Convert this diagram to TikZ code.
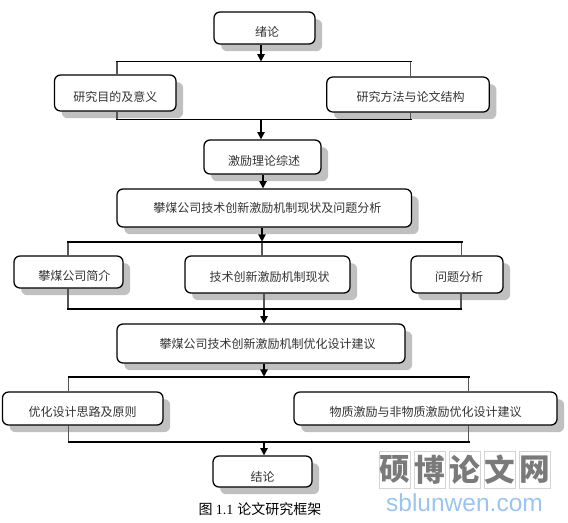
\documentclass[tikz,border=0pt]{standalone}
\usepackage{fontspec}
\usetikzlibrary{shadows,arrows.meta}
\setmainfont{Liberation Serif}
\newfontfamily\cjkf{Noto Sans CJK SC}
\newfontfamily\wmlatin{Liberation Sans}
\definecolor{shadowc}{HTML}{C0C0C0}
\definecolor{labelc}{HTML}{333333}
\definecolor{dropc}{HTML}{555555}
\definecolor{wmgrid}{HTML}{D4D4D4}
\definecolor{wmink}{HTML}{7A7A7A}
\definecolor{wmblue}{HTML}{9CC4EE}
\newlength{\nudgeunit}\setlength{\nudgeunit}{1.5pt}
\newcommand{\nudge}[1]{\hspace*{#1\nudgeunit}}
\tikzset{
  wh/.style 2 args={minimum width=#1*0.75pt,minimum height=#2*0.75pt},
  dn/.style={text height=#1,text depth=1pt},
  bx/.style={draw=black,line width=0.95pt,fill=white,rounded corners=4.5pt,inner sep=0pt,
    text=labelc,font=\cjkf\fontsize{9}{11}\selectfont,
    general shadow={fill=shadowc,draw=none,shadow xshift=5.4pt,shadow yshift=-5.4pt}},
  bus/.style={draw=black,line width=1.25pt,line cap=rect},
  drop/.style={draw=dropc,line width=1pt},
  arr/.style={draw=black,line width=1.1pt,-{Triangle[length=5.5pt,width=5.5pt]}},
  wmcell/.style={draw=wmgrid,line width=0.5pt,fill=white,minimum width=23.6pt,minimum height=28pt,inner sep=0pt,
    text=wmink,font=\cjkf\bfseries\fontsize{23}{26}\selectfont},
  wmurl/.style={text=wmblue,inner sep=0pt,font=\wmlatin\fontsize{18.4}{22}\selectfont},
  capt/.style={inner sep=0pt,text=black,font=\cjkf\fontsize{10.5}{12}\selectfont}
}
\begin{document}
\begin{tikzpicture}[x=0.75pt,y=-0.75pt]
\useasboundingbox (0,0) rectangle (568,522);
% boxes
\node[bx,wh={101}{32},dn=13.9pt]    (n1)  at (264.5,28)   {\nudge{2.5}绪论};
\node[bx,wh={121.5}{36},dn=13.9pt]  (n2)  at (115.25,93)  {研究目的及意义};
\node[bx,wh={162.5}{35},dn=10.9pt]  (n3)  at (408,94.5)   {\nudge{2.5}研究方法与论文结构};
\node[bx,wh={117}{34},dn=13.15pt]   (n4)  at (262.5,157)  {\nudge{1.5}激励理论综述};
\node[bx,wh={294.5}{38},dn=7.9pt]   (n5)  at (264.25,208) {\nudge{3}攀煤公司技术创新激励机制现状及问题分析};
\node[bx,wh={109}{32},dn=13.9pt]    (n6)  at (68.5,272)   {\nudge{6}攀煤公司简介};
\node[bx,wh={165}{37},dn=10.9pt]    (n7)  at (267.5,274.5){\nudge{2}技术创新激励机制现状};
\node[bx,wh={92}{37},dn=10.9pt]     (n8)  at (457,274.5)  {\nudge{2}问题分析};
\node[bx,wh={288}{39},dn=7.9pt]     (n9)  at (261,343.5)  {\nudge{6.5}攀煤公司技术创新激励机制优化设计建议};
\node[bx,wh={160.5}{33},dn=12.4pt]  (n10) at (82.75,408.5){优化设计思路及原则};
\node[bx,wh={263}{33},dn=12.4pt]    (n11) at (425.5,408.5){物质激励与非物质激励优化设计建议};
\node[bx,wh={99}{31},dn=15.4pt]     (n12) at (262.5,471.5){结论};
% bus coordinates
\coordinate (b1l) at (117,61.5);  \coordinate (b1m) at (261,61.5);  \coordinate (b1r) at (410.7,61.5);
\coordinate (b2l) at (117,119.5); \coordinate (b2m) at (261,119.5); \coordinate (b2r) at (410.7,119.5);
\coordinate (b3l) at (68,241.7);  \coordinate (b3m) at (262,241.7); \coordinate (b3r) at (461.7,241.7);
\coordinate (b4l) at (68,308.7);  \coordinate (b4m) at (264,308.7); \coordinate (b4r) at (461,308.7);
\coordinate (b5l) at (68.5,376.7);\coordinate (b5m) at (264,376.7); \coordinate (b5r) at (468.7,376.7);
\coordinate (b6l) at (68.5,441.7);\coordinate (b6m) at (264,441.7); \coordinate (b6r) at (468.7,441.7);
\coordinate (a45) at (263,180);
% drops and rises
\draw[drop] (b1l) -- (n2.north -| b1l);
\draw[drop] (b1r) -- (n3.north -| b1r);
\draw[drop] (n2.south -| b2l) -- (b2l);
\draw[drop] (n3.south -| b2r) -- (b2r);
\draw[drop] (b3l) -- (n6.north -| b3l);
\draw[drop] (b3m) -- (n7.north -| b3m);
\draw[drop] (b3r) -- (n8.north -| b3r);
\draw[drop] (n6.south -| b4l) -- (b4l);
\draw[drop] (n7.south -| b4m) -- (b4m);
\draw[drop] (n8.south -| b4r) -- (b4r);
\draw[drop] (b5l) -- (n10.north -| b5l);
\draw[drop] (b5r) -- (n11.north -| b5r);
\draw[drop] (n10.south -| b6l) -- (b6l);
\draw[drop] (n11.south -| b6r) -- (b6r);
% buses
\draw[bus] (b1l) -- (b1r);
\draw[bus] (b2l) -- (b2r);
\draw[bus] (b3l) -- (b3r);
\draw[bus] (b4l) -- (b4r);
\draw[bus] (b5l) -- (b5r);
\draw[bus] (b6l) -- (b6r);
% arrows
\draw[arr] (n1.south -| b1m) -- (b1m);
\draw[arr] (b2m) -- (n4.north -| b2m);
\draw[arr] (n4.south -| a45) -- (n5.north -| a45);
\draw[arr] (n5.south -| b3m) -- (b3m);
\draw[arr] (b4m) -- (n9.north -| b4m);
\draw[arr] (n9.south -| b5m) -- (b5m);
\draw[arr] (b6m) -- (n12.north -| b6m);
% caption
\node[capt] (cap) at (260,509) {图 {\rmfamily 1.1}\hspace{3pt}论文研究框架};
% watermark
\node[wmcell] (w1) at (395,469.5) {硕};
\node[wmcell] (w2) at (430,469.5) {博};
\node[wmcell] (w3) at (465,469.5) {论};
\node[wmcell] (w4) at (500,469.5) {文};
\node[wmcell] (w5) at (535,469.5) {网};
\node[wmurl] (url) at (464.5,503) {sblunwen.com};
\end{tikzpicture}
\end{document}
